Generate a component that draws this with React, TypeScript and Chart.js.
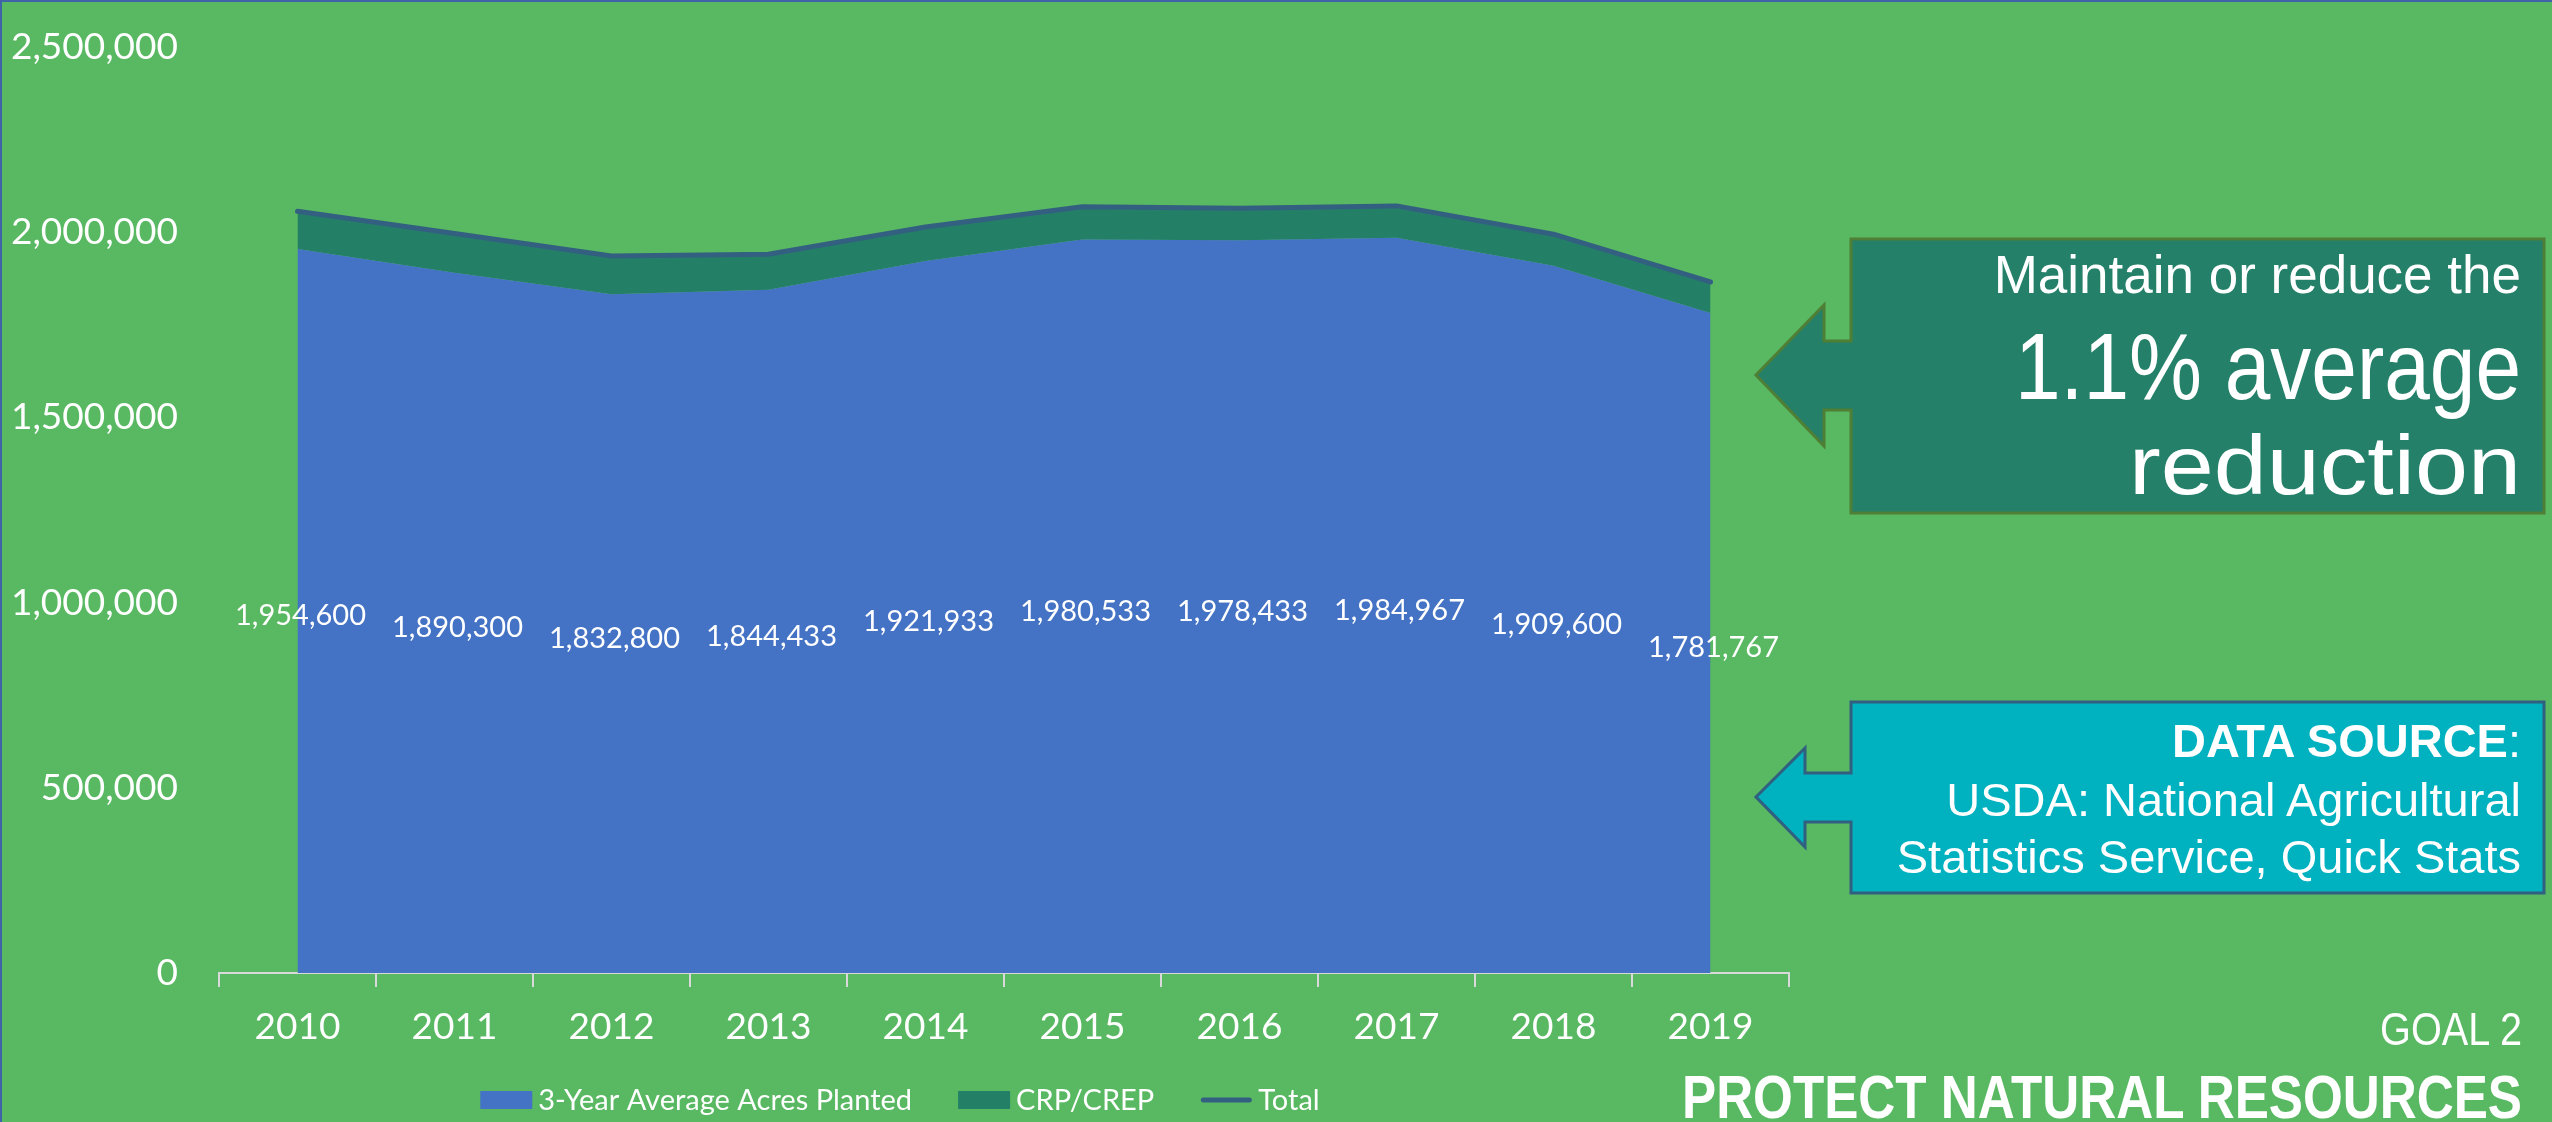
import React, { useEffect, useRef } from "react";
import { Chart, registerables } from "chart.js";

Chart.register(...registerables);

// ---- data ----
const years = ["2010", "2011", "2012", "2013", "2014", "2015", "2016", "2017", "2018", "2019"];
const plantedAcres = [1954600, 1890300, 1832800, 1844433, 1921933, 1980533, 1978433, 1984967, 1909600, 1781767];
const crpAcres = [102000, 106000, 103000, 96000, 92000, 88000, 86000, 86000, 85000, 84000];
const totalAcres = [2056600, 1996300, 1935800, 1940433, 2013933, 2068533, 2064433, 2070967, 1994600, 1865767];
const seriesNames = ["3-Year Average Acres Planted", "CRP/CREP", "Total"];
const yMin = 0;
const yMax = 2500000;
const yStep = 500000;

const BG = "#59B862";
const BLUE = "#4472C4";
const CRP = "#238067";
const TOTAL = "#336080";
const AXIS = "#D9D9D9";
const CHART_FONT = "Lato, 'Noto Sans', sans-serif";

const fmt = (v: number) => Math.round(v).toLocaleString("en-US");

const valueLabels = {
  id: "valueLabels",
  afterDatasetsDraw(chart: any) {
    const { ctx } = chart;
    const xs = chart.scales.x;
    const ys = chart.scales.y;
    ctx.save();
    ctx.font = `29px ${CHART_FONT}`;
    ctx.fillStyle = "#ffffff";
    ctx.textAlign = "center";
    ctx.textBaseline = "middle";
    plantedAcres.forEach((v, i) => {
      ctx.fillText(fmt(v), xs.getPixelForValue(i) + 3, ys.getPixelForValue(v / 2) + 5);
    });
    ctx.restore();
  },
};

const customLegend = {
  id: "customLegend",
  afterDraw(chart: any) {
    const { ctx } = chart;
    const ds = chart.data.datasets;
    ctx.save();
    ctx.font = `29px ${CHART_FONT}`;
    ctx.textBaseline = "middle";
    ctx.textAlign = "left";
    const boxW = 52;
    const boxH = 18;
    const gapText = 6;
    const gapItem = 46;
    const widths = ds.map((d: any) => boxW + gapText + ctx.measureText(d.label).width);
    const total = widths.reduce((a: number, b: number) => a + b, 0) + gapItem * (ds.length - 1);
    let x = chart.width / 2 - total / 2;
    const yc = 1100;
    ds.forEach((d: any, i: number) => {
      if (d.fill === false) {
        ctx.strokeStyle = d.borderColor;
        ctx.lineWidth = 5;
        ctx.lineCap = "round";
        ctx.beginPath();
        ctx.moveTo(x + 3, yc);
        ctx.lineTo(x + boxW - 3, yc);
        ctx.stroke();
      } else {
        ctx.fillStyle = d.backgroundColor;
        ctx.fillRect(x, yc - boxH / 2, boxW, boxH);
      }
      ctx.fillStyle = "#ffffff";
      ctx.fillText(d.label, x + boxW + gapText, yc + 1);
      x += widths[i] + gapItem;
    });
    ctx.restore();
  },
};

function AcresChart() {
  const ref = useRef<HTMLCanvasElement | null>(null);
  useEffect(() => {
    if (!ref.current) return;
    const chart = new Chart(ref.current, {
      type: "line",
      data: {
        labels: years,
        datasets: [
          {
            label: seriesNames[0],
            data: plantedAcres,
            backgroundColor: BLUE,
            borderColor: BLUE,
            borderWidth: 0,
            pointRadius: 0,
            fill: "origin",
            stack: "area",
            order: 1,
          },
          {
            label: seriesNames[1],
            data: crpAcres,
            backgroundColor: CRP,
            borderColor: CRP,
            borderWidth: 0,
            pointRadius: 0,
            fill: "-1",
            stack: "area",
            order: 1,
          },
          {
            label: seriesNames[2],
            data: totalAcres,
            borderColor: TOTAL,
            backgroundColor: TOTAL,
            borderWidth: 5,
            borderCapStyle: "round",
            borderJoinStyle: "round",
            pointRadius: 0,
            fill: false,
            stack: "total",
            order: 0,
          },
        ] as any,
      },
      options: {
        animation: false,
        responsive: false,
        devicePixelRatio: 1,
        layout: { padding: { left: 0, right: 11, top: 47, bottom: 79 } },
        plugins: { legend: { display: false }, tooltip: { enabled: false } },
        scales: {
          x: {
            offset: true,
            grid: {
              offset: true,
              drawOnChartArea: false,
              drawTicks: true,
              tickLength: 14,
              color: AXIS,
              lineWidth: 2,
            },
            border: { display: true, color: AXIS, width: 2 },
            ticks: { color: "#ffffff", font: { family: CHART_FONT, size: 37 }, padding: 18, maxRotation: 0 },
            afterFit: (s: any) => {
              s.height = 70;
            },
          },
          y: {
            stacked: true,
            min: yMin,
            max: yMax,
            grid: { display: false, drawTicks: false },
            border: { display: false },
            ticks: {
              stepSize: yStep,
              color: "#ffffff",
              font: { family: CHART_FONT, size: 37 },
              padding: 41,
              callback: (v: any) => fmt(Number(v)),
            },
            afterFit: (s: any) => {
              s.width = 219;
              s.paddingTop = 0;
              s.paddingBottom = 0;
            },
          },
        },
      },
      plugins: [valueLabels, customLegend],
    });
    return () => chart.destroy();
  }, []);
  return <canvas ref={ref} width={1800} height={1122} style={{ position: "absolute", left: 0, top: 0 }} />;
}

export default function App() {
  useEffect(() => {
    document.body.style.margin = "0";
    document.body.style.background = BG;
  }, []);
  const arial = "'Liberation Sans', Arial, sans-serif";
  return (
    <div style={{ position: "absolute", left: 0, top: 0, width: 2552, height: 1122, background: BG, overflow: "hidden" }}>
      <AcresChart />
      <svg width={2552} height={1122} style={{ position: "absolute", left: 0, top: 0, pointerEvents: "none" }}>
        <rect x={0} y={0} width={2552} height={2} fill="#3F62A8" />
        <rect x={0} y={0} width={2} height={1122} fill="#3F62A8" />
        <polygon
          points="1851,239 2544,239 2544,513 1851,513 1851,410 1824,410 1824,446 1756,375 1824,305 1824,341 1851,341"
          fill="#248069"
          stroke="#4F7E35"
          strokeWidth={3}
        />
        <text x={2521} y={293} textAnchor="end" fontFamily={arial} fontSize={53} fill="#ffffff">
          Maintain or reduce the
        </text>
        <text x={2521} y={399} textAnchor="end" fontFamily={arial} fontSize={95} fill="#ffffff" textLength={506} lengthAdjust="spacingAndGlyphs">
          1.1% average
        </text>
        <text x={2521} y={494} textAnchor="end" fontFamily={arial} fontSize={84} fill="#ffffff" textLength={392} lengthAdjust="spacingAndGlyphs">
          reduction
        </text>
        <polygon
          points="1851,702 2544,702 2544,893 1851,893 1851,822 1805,822 1805,847 1756,797 1805,748 1805,773 1851,773"
          fill="#00B1C0"
          stroke="#305F80"
          strokeWidth={3}
        />
        <text x={2521} y={757} textAnchor="end" fontFamily={arial} fontSize={47} fill="#ffffff">
          <tspan fontWeight="bold">DATA SOURCE</tspan>
          <tspan>:</tspan>
        </text>
        <text x={2521} y={816} textAnchor="end" fontFamily={arial} fontSize={47} fill="#ffffff">
          USDA: National Agricultural
        </text>
        <text x={2521} y={873} textAnchor="end" fontFamily={arial} fontSize={47} fill="#ffffff">
          Statistics Service, Quick Stats
        </text>
        <text x={2522} y={1045} textAnchor="end" fontFamily={arial} fontSize={47} fill="#ffffff" textLength={142} lengthAdjust="spacingAndGlyphs">
          GOAL 2
        </text>
        <text x={2522} y={1118} textAnchor="end" fontFamily={arial} fontWeight="bold" fontSize={62} fill="#ffffff" textLength={840} lengthAdjust="spacingAndGlyphs">
          PROTECT NATURAL RESOURCES
        </text>
      </svg>
    </div>
  );
}
